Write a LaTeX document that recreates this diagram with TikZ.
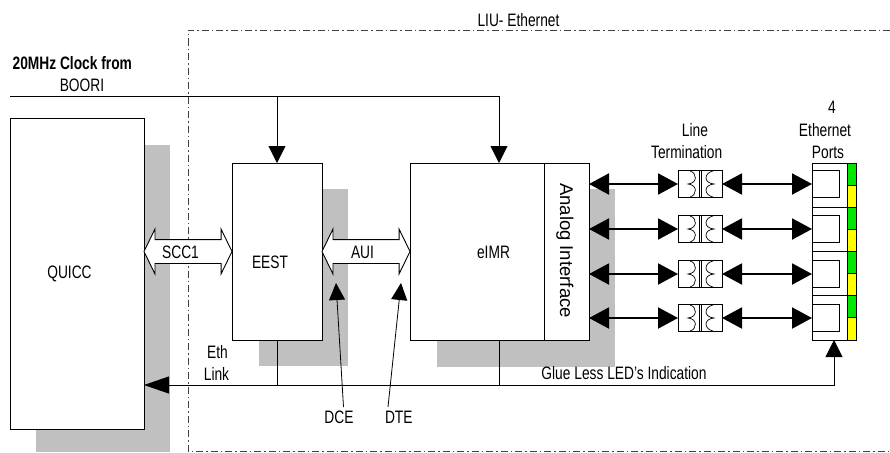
\documentclass[tikz,border=0pt]{standalone}
\usepackage{fontspec}
\setmainfont{Liberation Sans}[FakeStretch=0.765]
\newfontfamily\widefont{Liberation Sans}
\usetikzlibrary{arrows.meta,shapes.arrows}
\definecolor{shade}{RGB}{192,192,192}
\definecolor{ledgreen}{RGB}{0,230,0}
\definecolor{ledyellow}{RGB}{255,255,0}
\tikzset{
  x=1pt,y=-1pt,
  every node/.style={font=\fontsize{18pt}{20pt}\selectfont,inner sep=0pt,outer sep=0pt},
  boxnode/.style={draw=black,line width=0.9pt,fill=white,anchor=north west},
  shadow/.style={fill=shade,draw=none},
  frameline/.style={line width=0.7pt,black!75,dash pattern=on 7pt off 3pt on 1.5pt off 3pt},
  wire/.style={line width=0.9pt,black},
  thinarrow/.style={line width=0.9pt,black,-{Triangle[length=17pt,width=17pt]}},
  slimarrow/.style={line width=0.8pt,black,-{Triangle[length=17pt,width=16pt]}},
  linkarrow/.style={line width=2pt,black,{Triangle[length=20pt,width=21pt]}-{Triangle[length=20pt,width=21pt]}},
  busarrow/.style={double arrow,draw=black,line width=0.9pt,fill=white,minimum height=88pt,minimum width=44pt,double arrow head extend=10.5pt,double arrow tip angle=128,anchor=center,inner xsep=0pt,inner ysep=11.5pt},
  xfmr/.style={draw=black,line width=0.8pt,fill=white,minimum width=44pt,minimum height=26.5pt,anchor=center},
  jack/.style={draw=black,line width=0.9pt,fill=white,minimum width=27pt,minimum height=26.5pt,anchor=west},
  ledcell/.style={draw=black,line width=0.7pt,minimum width=9pt,minimum height=22pt,anchor=north west},
}
\begin{document}
\begin{tikzpicture}
\useasboundingbox (0,0) rectangle (890,452);
% shadows
\fill[shadow] (36,145) rectangle (170,452);
\fill[shadow] (259,189) rectangle (348,366);
\fill[shadow] (437,189) rectangle (615,367);
% frame
\draw[frameline] (890,30) -- (188,30) -- (188,451) -- (890,451);
% blocks
\node[boxnode,minimum width=134pt,minimum height=311pt] (quicc) at (10,118) {};
\node at (69.5,273.5) {QUICC};
\node[boxnode,minimum width=90pt,minimum height=177pt] (eest) at (232,163) {};
\node at (270,262) {EEST};
\node[boxnode,minimum width=134pt,minimum height=177pt] (emr) at (410,163) {};
\node at (493.5,252) {eIMR};
\node[boxnode,minimum width=45pt,minimum height=177pt] (aif) at (544,163) {};
\node[rotate=-90,anchor=base,font=\widefont\fontsize{18.5pt}{20pt}\selectfont] at (560,250.5) {Analog Interface};
% ports body
\node[boxnode,minimum width=44pt,minimum height=177pt] (ports) at (812,163) {};
% clock
\coordinate (clkstart) at (10,96);
\coordinate (clkend) at (499,96);
\draw[wire] (clkstart) -- (clkend);
\draw[thinarrow] (clkend) -- (499,163);
\draw[thinarrow] (277,96) -- (277,163);
% bus arrows
\node[busarrow] (scc) at (188,251.5) {};
\node[busarrow] (aui) at (366,251.5) {};
\node at (180.5,252) {SCC1};
\node at (362.5,252) {AUI};
% rows
\foreach \i/\y in {1/184,2/229,3/274,4/318}{
  \node[xfmr] (t\i) at (700,\y) {};
  \begin{scope}[shift={(t\i.center)}]
    \draw[line width=0.8pt] (-1,-13.25) -- (-1,13.25) (1,-13.25) -- (1,13.25);
    \draw[line width=0.7pt] (-10,-13) .. controls (-3,-11) and (-2,-1) .. (-12,0)
       .. controls (-2,1) and (-3,11) .. (-10,13);
    \draw[line width=0.7pt] (13,-13) .. controls (4,-11) and (3,-1) .. (14,0)
       .. controls (3,1) and (4,11) .. (13,13);
  \end{scope}
  \node[jack] (j\i) at (812,\y) {};
  \draw[linkarrow] (aif.east |- t\i.west) -- (t\i.west);
  \draw[linkarrow] (t\i.east) -- (j\i.west);
}
% port separators and leds
\foreach \y/\k in {163/1,207.25/2,251.5/3,295.75/4}{
  \node[ledcell,fill=ledgreen] (g\k) at (847,\y) {};
  \node[ledcell,fill=ledyellow,anchor=north west,minimum height=22.25pt] (l\k) at (847,\y+22) {};
}
\draw[wire] (ports.west |- l1.south) -- (ports.east |- l1.south);
\draw[wire] (ports.west |- l2.south) -- (ports.east |- l2.south);
\draw[wire] (ports.west |- l3.south) -- (ports.east |- l3.south);
% glue bus
\coordinate (busr) at (834,385);
\coordinate (portin) at (834,340);
\coordinate (busl) at (144,385);
\draw[wire] (277,340) -- (277,385);
\draw[wire] (499,340) -- (499,385);
\draw[line width=0.9pt,black,{Triangle[length=25pt,width=17pt]}-{Triangle[length=17pt,width=17pt]}] (busl) -- (busr) -- (portin);
% pointers
\coordinate (dceT) at (336,283);
\coordinate (dteT) at (401,283);
\node (dce) at (339,417) {DCE};
\node (dte) at (398.8,417) {DTE};
\draw[slimarrow] (343.5,407) -- (dceT);
\draw[slimarrow] (388,407) -- (dteT);
% labels
\node at (518.5,20) {LIU- Ethernet};
\node[font=\fontsize{18pt}{20pt}\selectfont\bfseries] at (72.3,63) {20MHz Clock from};
\node at (82,85) {BOORI};
\node at (695,130) {Line};
\node at (686.7,152) {Termination};
\node at (832,107) {4};
\node at (825,130) {Ethernet};
\node at (828,152) {Ports};
\node at (217.5,352) {Eth};
\node at (216.5,374) {Link};
\node at (624,372.7) {Glue Less LED's Indication};
\end{tikzpicture}
\end{document}
